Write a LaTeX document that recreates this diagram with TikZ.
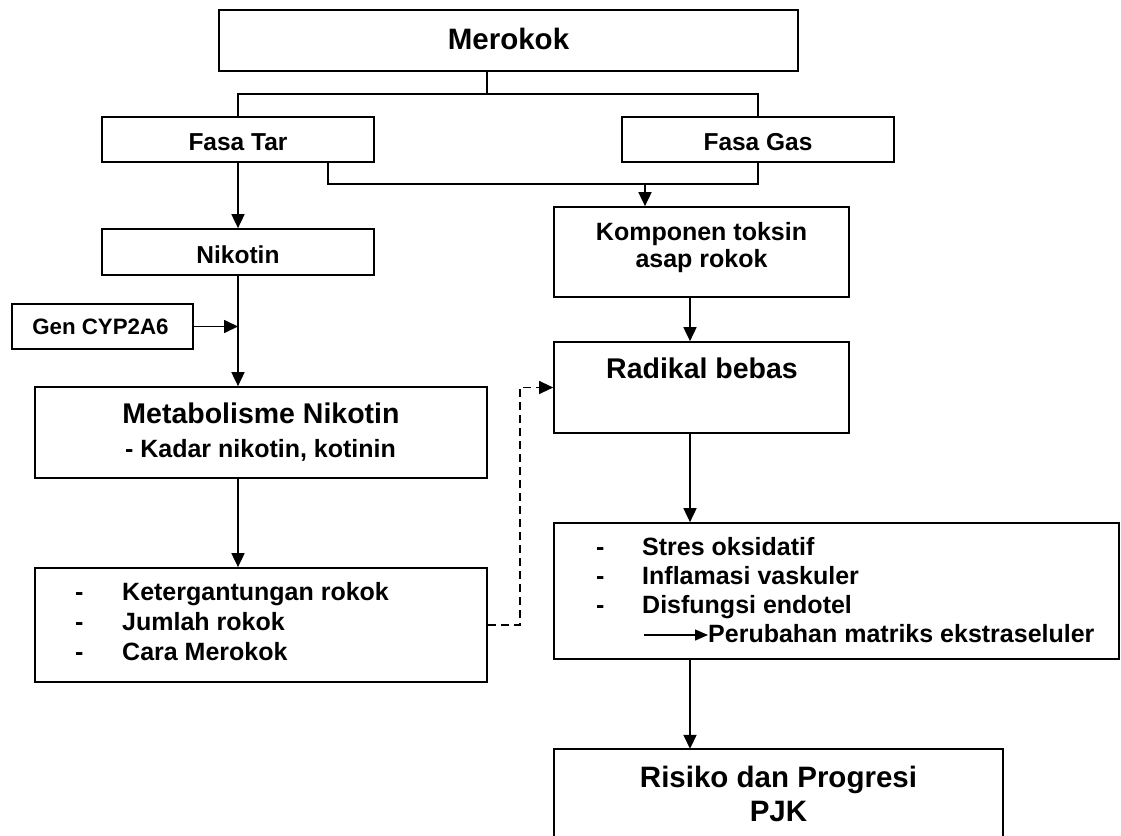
\documentclass[tikz,border=0pt]{standalone}
\usepackage{fontspec}
\setmainfont{Liberation Sans}
\usetikzlibrary{arrows.meta}
\begin{document}
\begin{tikzpicture}[x=1pt,y=-1pt,
  bx/.style={draw, line width=1.7pt, inner sep=0pt},
  lbl/.style={inner sep=0pt, font=\bfseries\fontsize{#1}{#1}\selectfont},
  ln/.style={line width=1.7pt},
  arr/.style={line width=1.7pt, -{Triangle[length=14pt,width=13pt]}},
  dsh/.style={line width=1.3pt, dash pattern=on 8pt off 5pt, -{Triangle[length=14pt,width=13pt]}},
  sarr/.style={line width=1.4pt, -{Triangle[length=13pt,width=11pt]}}
]
\useasboundingbox (0,0) rectangle (1121,835);
\fill[white] (0,0) rectangle (1121,835);

% boxes and texts
\node[bx, minimum width=579pt, minimum height=61pt] (mero) at (508.5,40.5) {};
\node[lbl=29.5, anchor=base] (tmero) at (508.5,49.3) {Merokok};

\node[bx, minimum width=272pt, minimum height=45pt] (tar) at (238,139.5) {};
\node[lbl=24.5, anchor=base] (ttar) at (238,150) {Fasa Tar};

\node[bx, minimum width=272pt, minimum height=45pt] (gas) at (758,139.5) {};
\node[lbl=24.5, anchor=base] (tgas) at (758,150) {Fasa Gas};

\node[bx, minimum width=272pt, minimum height=46pt] (nik) at (238,252) {};
\node[lbl=24.5, anchor=base] (tnik) at (238,263) {Nikotin};

\node[bx, minimum width=295pt, minimum height=90pt] (komp) at (701.5,252) {};
\node[lbl=25, anchor=base] (tkomp1) at (701.5,240) {Komponen toksin};
\node[lbl=25, anchor=base] (tkomp2) at (701.5,267.5) {asap rokok};

\node[bx, minimum width=181pt, minimum height=45pt] (gen) at (102.5,326.5) {};
\node[lbl=22.3, anchor=base] (tgen) at (100.5,334) {Gen CYP2A6};

\node[bx, minimum width=452pt, minimum height=91pt] (meta) at (261,432.5) {};
\node[lbl=28.5, anchor=base] (tmeta1) at (261,423.5) {Metabolisme Nikotin};
\node[lbl=25, anchor=base] (tmeta2) at (260.5,457.5) {- Kadar nikotin, kotinin};

\node[bx, minimum width=452pt, minimum height=114pt] (list) at (261,625) {};
\node[lbl=25, anchor=base west] (ld1) at (75,600) {-};
\node[lbl=25, anchor=base west] (lt1) at (122,600) {Ketergantungan rokok};
\node[lbl=25, anchor=base west] (ld2) at (75,630) {-};
\node[lbl=25, anchor=base west] (lt2) at (122,630) {Jumlah rokok};
\node[lbl=25, anchor=base west] (ld3) at (75,660) {-};
\node[lbl=25, anchor=base west] (lt3) at (122,660) {Cara Merokok};

\node[bx, minimum width=295pt, minimum height=91pt] (rad) at (701.5,387.5) {};
\node[lbl=28.5, anchor=base] (trad) at (702,378) {Radikal bebas};

\node[bx, minimum width=565pt, minimum height=136pt] (stres) at (836.5,591) {};
\node[lbl=25, anchor=base west] (sd1) at (596,555) {-};
\node[lbl=25, anchor=base west] (st1) at (642,555) {Stres oksidatif};
\node[lbl=25, anchor=base west] (sd2) at (596,584) {-};
\node[lbl=25, anchor=base west] (st2) at (642,584) {Inflamasi vaskuler};
\node[lbl=25, anchor=base west] (sd3) at (596,613) {-};
\node[lbl=25, anchor=base west] (st3) at (642,613) {Disfungsi endotel};
\node[lbl=25, anchor=base west] (tperub) at (708,642) {Perubahan matriks ekstraseluler};
\coordinate (pa) at (644,635);
\draw[sarr] (pa) -- (pa -| tperub.west);

\node[inner sep=0pt, minimum width=449pt, minimum height=88pt] (risk) at (778.5,793) {};
\draw[ln] (risk.south west) -- (risk.north west) -- (risk.north east) -- (risk.south east);
\node[lbl=29.5, anchor=base] (trisk1) at (778.5,787) {Risiko dan Progresi};
\node[lbl=29.5, anchor=base] (trisk2) at (778.5,821) {PJK};

% connectors
\coordinate (j1) at (487,94);
\draw[ln] (mero.south -| j1) -- (j1);
\draw[ln] (tar.north) |- (j1) -| (gas.north);

\coordinate (j2) at (328,184);
\draw[ln] (tar.south -| j2) -- (j2) -| (gas.south);
\coordinate (j3) at (645,184);
\draw[arr] (j3) -- (komp.north -| j3);

\draw[arr] (tar.south) -- (nik.north);
\draw[arr] (nik.south) -- (meta.north -| nik.south);
\draw[arr] (gen.east) -- (gen.east -| nik.south);
\draw[arr] (meta.south -| nik.south) -- (list.north -| nik.south);

\coordinate (colx) at (690,0);
\draw[arr] (komp.south -| colx) -- (rad.north -| colx);
\draw[arr] (rad.south -| colx) -- (stres.north -| colx);
\draw[arr] (stres.south -| colx) -- (risk.north -| colx);

\coordinate (dk) at (520,0);
\draw[dsh] (list.east) -| (dk |- rad.west) -- (rad.west);
\end{tikzpicture}
\end{document}
